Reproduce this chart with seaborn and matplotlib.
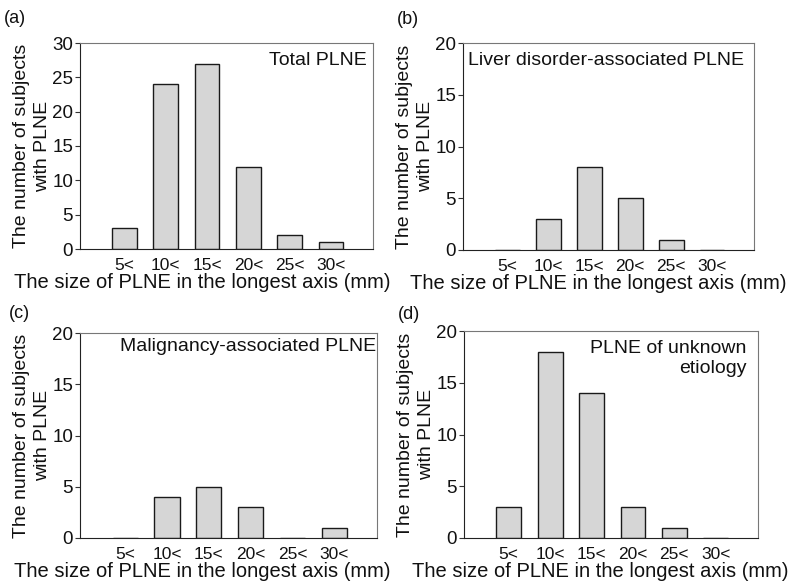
import matplotlib
matplotlib.use("Agg")
import matplotlib.pyplot as plt
import seaborn as sns
import pandas as pd

sizes = ["5<", "10<", "15<", "20<", "25<", "30<"]
total_plne = [3, 24, 27, 12, 2, 1]
liver_plne = [0, 3, 8, 5, 1, 0]
malignancy_plne = [0, 4, 5, 3, 0, 1]
unknown_plne = [3, 18, 14, 3, 1, 0]

panel_letters = ["(a)", "(b)", "(c)", "(d)"]
panel_titles = ["Total PLNE", "Liver disorder-associated PLNE",
                "Malignancy-associated PLNE", "PLNE of unknown\netiology"]
y_max = [30, 20, 20, 20]
xlabel = "The size of PLNE in the longest axis (mm)"
ylabel = "The number of subjects\nwith PLNE"

sns.set_theme(style="white")
plt.rcParams["font.family"] = ["Liberation Sans", "DejaVu Sans"]

W, H = 792, 586
fig = plt.figure(figsize=(7.92, 5.86), dpi=100)

# axes boxes in pixels: left, right, top, bottom
boxes_px = [
    (80, 373, 43, 249),
    (463, 754, 43, 250),
    (80, 377, 333, 538),
    (464, 758, 331, 538),
]
text_pos = [
    (0.98, 0.955, "right"),
    (0.017, 0.955, "left"),
    (0.997, 0.975, "right"),
    (0.96, 0.955, "right"),
]
xlabel_center_px = [202, 598, 202, 600]
letter_px = [(4, 10), (397, 11), (9, 305), (398, 306)]
series = [total_plne, liver_plne, malignancy_plne, unknown_plne]

for i in range(4):
    l, r, t, b = boxes_px[i]
    ax = fig.add_axes([l / W, 1 - b / H, (r - l) / W, (b - t) / H])
    df = pd.DataFrame({"size": sizes, "count": series[i]})
    sns.barplot(data=df, x="size", y="count", order=sizes, ax=ax,
                color="#d6d6d6", edgecolor="#1a1a1a", linewidth=1.0,
                width=0.6, saturation=1)
    ax.set_xlim(-1.08, 6.02)
    ax.set_ylim(0, y_max[i])
    ax.set_yticks(range(0, y_max[i] + 1, 5))
    ax.tick_params(axis="y", which="major", left=True, length=3.5, width=0.8,
                   color="#333333", labelsize=13.5, pad=1.5,
                   labelcolor="#111111")
    ax.tick_params(axis="x", bottom=False, labelsize=12.5, pad=0.5,
                   labelcolor="#111111")
    ax.set_xlabel(xlabel, fontsize=14.5, labelpad=0, color="#111111")
    ax.xaxis.label.set_x((xlabel_center_px[i] - l) / (r - l))
    ax.set_ylabel(ylabel, fontsize=14, labelpad=1, color="#111111",
                  linespacing=1.3)
    for s in ax.spines.values():
        s.set_visible(True)
        s.set_color("#777777")
        s.set_linewidth(0.8)
    ax.spines["bottom"].set_color("#222222")
    ax.spines["left"].set_color("#222222")
    tx, ty, ha = text_pos[i]
    ax.text(tx, ty, panel_titles[i], transform=ax.transAxes, ha=ha, va="top",
            fontsize=14, color="#111111", linespacing=1.2)
    lx, ly = letter_px[i]
    fig.text(lx / W, 1 - ly / H, panel_letters[i],
             fontsize=13, ha="left", va="top", color="#111111")

fig.savefig("out.png", dpi=100)
